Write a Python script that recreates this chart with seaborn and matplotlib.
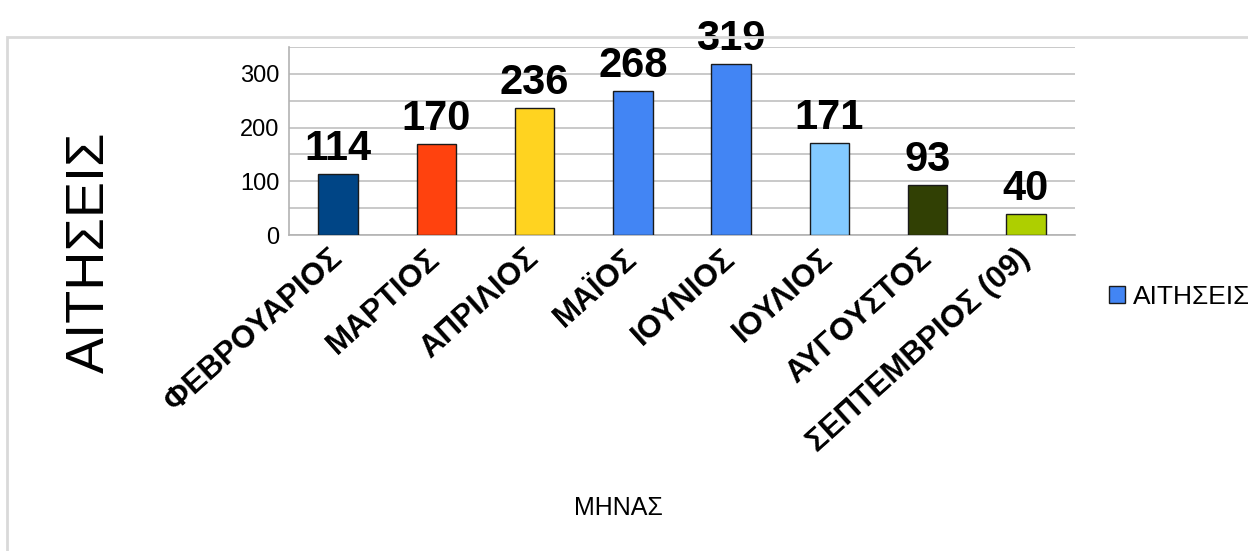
import matplotlib
matplotlib.use("Agg")
import matplotlib.pyplot as plt
import matplotlib.transforms as mtrans
import seaborn as sns
import pandas as pd
from matplotlib.patches import Rectangle, Patch

months = ["ΦΕΒΡΟΥΑΡΙΟΣ", "ΜΑΡΤΙΟΣ", "ΑΠΡΙΛΙΟΣ", "ΜΑΪΟΣ", "ΙΟΥΝΙΟΣ",
          "ΙΟΥΛΙΟΣ", "ΑΥΓΟΥΣΤΟΣ", "ΣΕΠΤΕΜΒΡΙΟΣ (09)"]
requests = [114, 170, 236, 268, 319, 171, 93, 40]
colors = ["#004586", "#ff420e", "#ffd320", "#4285f4", "#4285f4",
          "#83caff", "#314004", "#aecf00"]
yticks = [0, 100, 200, 300]

sns.set_theme(style="white")
plt.rcParams["font.family"] = ["Liberation Sans", "DejaVu Sans"]
plt.rcParams.update({"text.color": "black", "axes.labelcolor": "black",
                     "xtick.color": "black", "ytick.color": "black"})

df = pd.DataFrame({"month": months, "value": requests})

fig = plt.figure(figsize=(12.48, 5.51), dpi=100)
ax = fig.add_axes([289/1248, 1-235/551, (1075-289)/1248, (235-47)/551])

sns.barplot(data=df, x="month", y="value", hue="month", palette=colors,
            saturation=1, width=0.4, edgecolor="#1a1a1a", linewidth=1.0,
            legend=False, ax=ax, zorder=3)

ax.set_ylim(0, 350)
ax.set_xlim(-0.5, len(months)-0.5)
ax.set_yticks(yticks)
ax.set_yticks(range(0, 351, 50), minor=True)
ax.yaxis.grid(True, which="both", color="#c0c0c0", linewidth=1.2, zorder=0)
ax.set_axisbelow(True)
for s in ["top", "right"]:
    ax.spines[s].set_visible(False)
for s in ["left", "bottom"]:
    ax.spines[s].set_color("#b3b3b3")
    ax.spines[s].set_linewidth(1.2)
ax.tick_params(axis="y", which="both", labelsize=17, length=0, pad=7,
               labelcolor="black")
ax.tick_params(axis="x", length=0, pad=4, labelcolor="black")
ax.set_xticks(range(len(months)))
ax.set_xticklabels(months, rotation=42, ha="right", rotation_mode="anchor",
                   fontsize=22.5, fontweight="bold", color="black")
offset = mtrans.ScaledTranslation(-10/100, -3/100, fig.dpi_scale_trans)
for lbl in ax.get_xticklabels():
    lbl.set_transform(lbl.get_transform() + offset)

for i, v in enumerate(requests):
    ax.annotate(str(v), (i, v), xytext=(0, 10), textcoords="offset points",
                ha="center", va="baseline", fontsize=30, fontweight="bold",
                color="black", annotation_clip=False, zorder=5)

ax.set_xlabel("")
ax.set_ylabel("")
fig.text(618/1248, 1-508/551, "ΜΗΝΑΣ", ha="center", va="center",
         fontsize=18, color="black")
fig.text(90/1248, 1-252/551, "ΑΙΤΗΣΕΙΣ", ha="center", va="center",
         fontsize=39, rotation=90, color="black")

fig.patches.append(Rectangle((7/1248, -0.05), 1.2, 1-37/551+0.05,
                             transform=fig.transFigure, fill=False,
                             edgecolor="#d9d9d9", linewidth=2))

fig.legend(handles=[Patch(facecolor="#4285f4", edgecolor="#1a1a1a", label="ΑΙΤΗΣΕΙΣ")],
           loc="center left", bbox_to_anchor=(1109/1248, 1-297/551),
           frameon=False, fontsize=19, handlelength=0.6, handleheight=0.6,
           handletextpad=0.3, borderpad=0, borderaxespad=0)

fig.savefig("out.png", dpi=100)
